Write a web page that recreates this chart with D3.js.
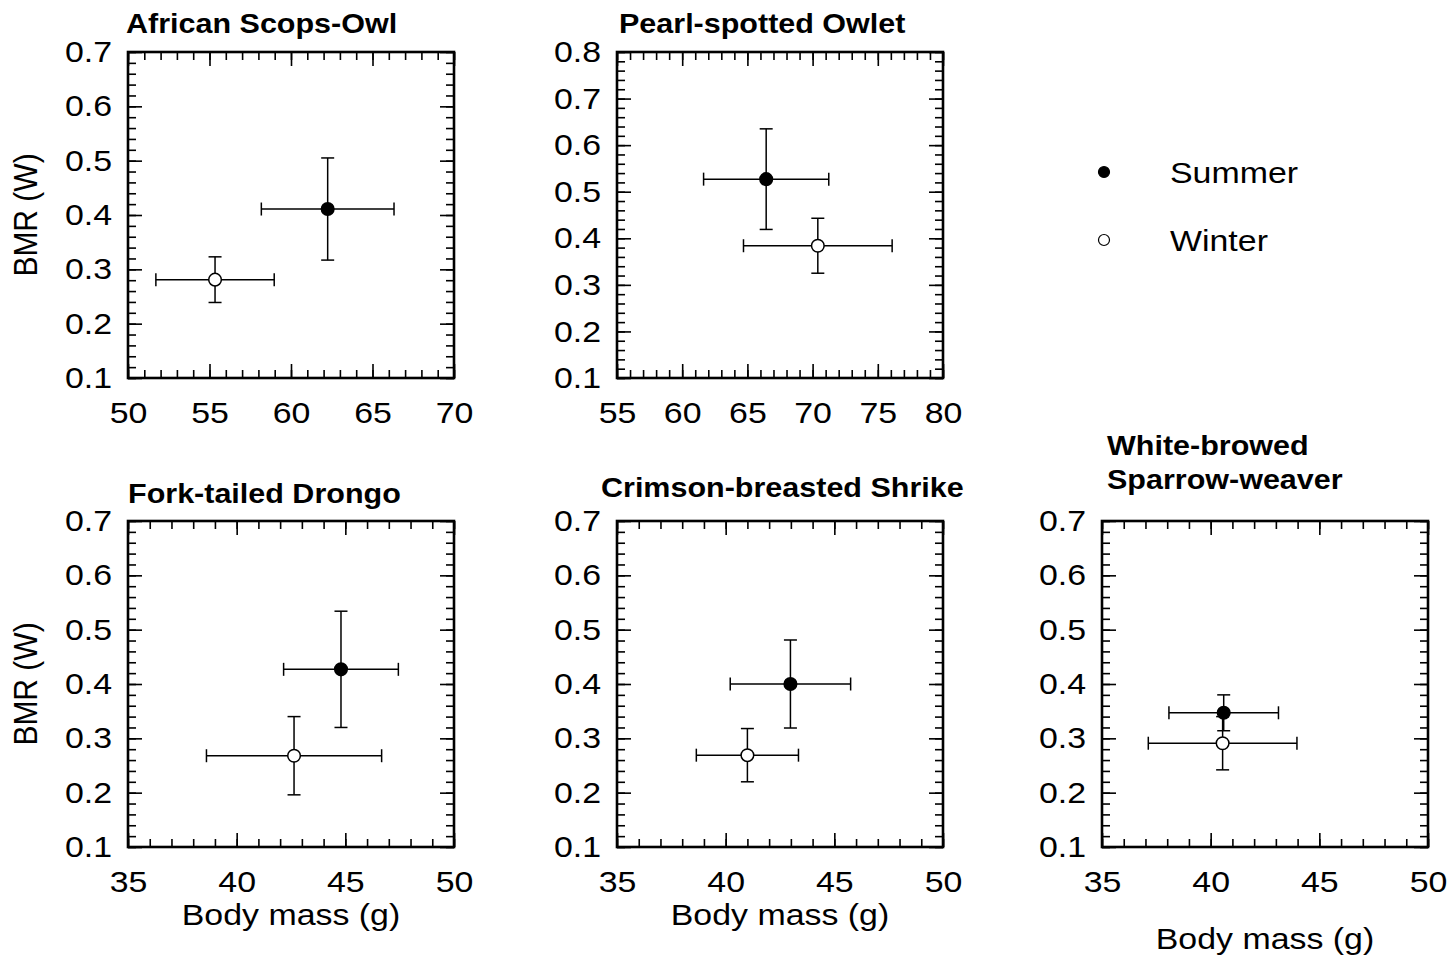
<!DOCTYPE html>
<html>
<head>
<meta charset="utf-8">
<script src="https://cdn.jsdelivr.net/npm/d3@7"></script>
<style>
  body { margin: 0; background: #fff; }
  text { font-family: "Liberation Sans", Arial, sans-serif; fill: #000; }
</style>
</head>
<body>
<div id="chart"></div>
<script>
// values: mean ± sd for each season
const titles = [
  ["African Scops-Owl"],
  ["Pearl-spotted Owlet"],
  ["Fork-tailed Drongo"],
  ["Crimson-breasted Shrike"],
  ["White-browed", "Sparrow-weaver"]
];
const summerMass   = [62.25, 66.44, 44.8, 42.98, 40.6];
const summerMassSd = [4.07, 4.8, 2.64, 2.77, 2.52];
const summerBmr    = [0.411, 0.527, 0.427, 0.400, 0.347];
const summerBmrSd  = [0.094, 0.108, 0.107, 0.081, 0.033];
const winterMass   = [55.34, 70.4, 42.64, 41.0, 40.55];
const winterMassSd = [3.63, 5.7, 4.03, 2.35, 3.42];
const winterBmr    = [0.281, 0.384, 0.268, 0.269, 0.291];
const winterBmrSd  = [0.042, 0.059, 0.072, 0.049, 0.049];

const massTicks = [
  [50, 55, 60, 65, 70],
  [55, 60, 65, 70, 75, 80],
  [35, 40, 45, 50],
  [35, 40, 45, 50],
  [35, 40, 45, 50]
];
const bmrTicks = [
  [0.1, 0.2, 0.3, 0.4, 0.5, 0.6, 0.7],
  [0.1, 0.2, 0.3, 0.4, 0.5, 0.6, 0.7, 0.8],
  [0.1, 0.2, 0.3, 0.4, 0.5, 0.6, 0.7],
  [0.1, 0.2, 0.3, 0.4, 0.5, 0.6, 0.7],
  [0.1, 0.2, 0.3, 0.4, 0.5, 0.6, 0.7]
];
const seasons = ["Summer", "Winter"];

// layout
const W = 1451, H = 962;
const SX = 1.13;          // text in the figure is a bit wide
const size = 326;
const panelPos = [[128, 52], [617, 52], [128, 521], [617, 521], [1102, 521]];
const titlePos = [[126, [33]], [619, [33]], [128, [503]], [601, [497]], [1107, [455, 489]]];
const showY = [true, false, true, false, false];
const xLabelY = [null, null, 78, 78, 102];

const svg = d3.select("#chart").append("svg")
  .attr("width", W)
  .attr("height", H);

function stretch(sel) {
  return sel.attr("transform", `scale(${SX},1)`);
}

titles.forEach((title, i) => {
  const [px, py] = panelPos[i];
  const g = svg.append("g").attr("transform", `translate(${px},${py})`);

  const x = d3.scaleLinear().domain(d3.extent(massTicks[i])).range([0, size]);
  const y = d3.scaleLinear().domain(d3.extent(bmrTicks[i])).range([size, 0]);

  const [m0, m1] = x.domain();
  const [b0, b1] = y.domain();
  const massMinor = d3.range(m0, m1 + 0.001, 1);
  const bmrMinor = d3.range(0, Math.round((b1 - b0) / 0.02) + 1).map(k => b0 + k * 0.02);

  const axes = [
    [d3.axisBottom, x, massMinor, massTicks[i], `translate(0,${size})`],
    [d3.axisTop, x, massMinor, massTicks[i], "translate(0,0)"],
    [d3.axisLeft, y, bmrMinor, bmrTicks[i], "translate(0,0)"],
    [d3.axisRight, y, bmrMinor, bmrTicks[i], `translate(${size},0)`]
  ];
  axes.forEach(([fn, sc, minor, major, tr]) => {
    g.append("g").attr("transform", tr)
      .call(fn(sc).tickValues(minor).tickSize(-8).tickFormat(""))
      .call(a => a.select(".domain").remove())
      .selectAll("line").attr("stroke-width", 1.6);
    g.append("g").attr("transform", tr)
      .call(fn(sc).tickValues(major).tickSize(-14).tickFormat(""))
      .call(a => a.select(".domain").remove())
      .selectAll("line").attr("stroke-width", 1.6);
  });

  // tick labels
  g.append("g").attr("transform", `translate(0,${size})`)
    .call(d3.axisBottom(x).tickValues(massTicks[i]).tickSize(0).tickPadding(24).tickFormat(d3.format("d")))
    .call(a => a.select(".domain").remove())
    .selectAll("text")
    .attr("font-size", 30)
    .attr("font-family", "Liberation Sans, Arial, sans-serif")
    .call(stretch);

  g.append("g")
    .call(d3.axisLeft(y).tickValues(bmrTicks[i]).tickSize(0).tickFormat(d3.format(".1f")))
    .call(a => a.select(".domain").remove())
    .selectAll("text")
    .attr("font-size", 30)
    .attr("font-family", "Liberation Sans, Arial, sans-serif")
    .attr("x", -16 / SX)
    .call(stretch);

  g.append("rect")
    .attr("width", size)
    .attr("height", size)
    .attr("fill", "none")
    .attr("stroke", "#000")
    .attr("stroke-width", 2.6);

  // title
  const [tx, tys] = titlePos[i];
  title.forEach((line, k) => {
    svg.append("text")
      .attr("transform", `translate(${tx},${tys[k]}) scale(${SX},1)`)
      .attr("font-size", 27)
      .attr("font-weight", "bold")
      .text(line);
  });

  if (showY[i]) {
    svg.append("text")
      .attr("transform", `translate(37,${py + size / 2}) scale(${SX},1) rotate(-90)`)
      .attr("text-anchor", "middle")
      .attr("font-size", 30)
      .text("BMR (W)");
  }
  if (xLabelY[i] !== null) {
    svg.append("text")
      .attr("transform", `translate(${px + size / 2},${py + size + xLabelY[i]}) scale(${SX},1)`)
      .attr("text-anchor", "middle")
      .attr("font-size", 30)
      .text("Body mass (g)");
  }

  // points: winter first, then summer on top
  const pts = [
    { m: winterMass[i], ms: winterMassSd[i], b: winterBmr[i], bs: winterBmrSd[i], fill: "#fff" },
    { m: summerMass[i], ms: summerMassSd[i], b: summerBmr[i], bs: summerBmrSd[i], fill: "#000" }
  ];
  const cap = 6.5;
  pts.forEach(p => {
    const e = g.append("g").attr("stroke", "#000").attr("stroke-width", 1.5);
    e.append("line").attr("x1", x(p.m - p.ms)).attr("x2", x(p.m + p.ms)).attr("y1", y(p.b)).attr("y2", y(p.b));
    e.append("line").attr("x1", x(p.m)).attr("x2", x(p.m)).attr("y1", y(p.b - p.bs)).attr("y2", y(p.b + p.bs));
    [p.m - p.ms, p.m + p.ms].forEach(v =>
      e.append("line").attr("x1", x(v)).attr("x2", x(v)).attr("y1", y(p.b) - cap).attr("y2", y(p.b) + cap));
    [p.b - p.bs, p.b + p.bs].forEach(v =>
      e.append("line").attr("x1", x(p.m) - cap).attr("x2", x(p.m) + cap).attr("y1", y(v)).attr("y2", y(v)));
    g.append("circle")
      .attr("cx", x(p.m))
      .attr("cy", y(p.b))
      .attr("r", 6.3)
      .attr("fill", p.fill)
      .attr("stroke", "#000")
      .attr("stroke-width", 1.5);
  });
});

// legend
const legend = svg.append("g").attr("transform", "translate(1104,172)");
seasons.forEach((s, k) => {
  const row = legend.append("g").attr("transform", `translate(0,${k * 68})`);
  row.append("circle")
    .attr("r", 5.5)
    .attr("fill", k === 0 ? "#000" : "#fff")
    .attr("stroke", "#000")
    .attr("stroke-width", 1.2);
  row.append("text")
    .attr("transform", `translate(66,11) scale(${SX},1)`)
    .attr("font-size", 30)
    .text(s);
});
</script>
</body>
</html>
